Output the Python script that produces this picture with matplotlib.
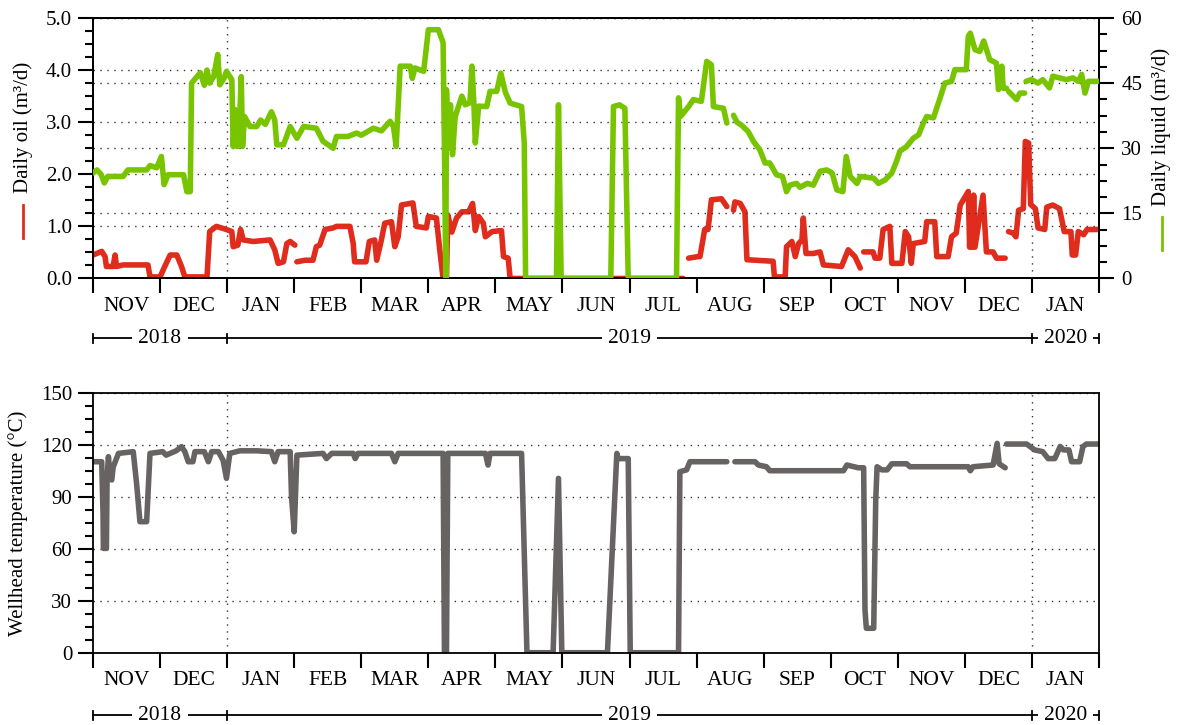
import numpy as np
import matplotlib
matplotlib.use("Agg")
import matplotlib.pyplot as plt
from matplotlib.lines import Line2D
from matplotlib.ticker import MultipleLocator, FixedLocator

plt.rcParams['font.family'] = ['Liberation Serif', 'DejaVu Serif']
plt.rcParams['font.size'] = 15

nan = np.nan

# x axis in months since 1 Nov 2018 (each month drawn with equal width)
months = ['NOV', 'DEC', 'JAN', 'FEB', 'MAR', 'APR', 'MAY', 'JUN',
          'JUL', 'AUG', 'SEP', 'OCT', 'NOV', 'DEC', 'JAN']
years = ['2018', '2019', '2020']
year_pos = [1, 8, 14.5]
year_marks = [0, 2, 14, 15]

# daily liquid (m3/d)
liq_x = [0.00, 0.06, 0.12, 0.17, 0.22, 0.45, 0.52, 0.80, 0.85, 0.95, 1.02, 1.06, 1.12, 1.35,
         1.40, 1.45, 1.47, 1.60, 1.66, 1.70, 1.74, 1.80, 1.86, 1.89, 1.95, 1.99, 2.07, 2.09,
         2.12, 2.15, 2.19, 2.21, 2.23, 2.26, 2.34, 2.44, 2.50, 2.57, 2.66, 2.71, 2.74, 2.84,
         2.94, 3.04, 3.14, 3.33, 3.43, 3.58, 3.63, 3.80, 3.93, 4.00, 4.18, 4.30, 4.43, 4.48,
         4.52, 4.58, 4.73, 4.76, 4.80, 4.93, 5.00, 5.15, 5.22, 5.24, 5.26, 5.27, 5.30, 5.33,
         5.36, 5.40, 5.50, 5.55, 5.62, 5.65, 5.68, 5.70, 5.75, 5.87, 5.92, 6.02, 6.08, 6.15,
         6.22, 6.39, 6.43, 6.45, 6.91, 6.94, 6.98, 7.72, 7.76, 7.85, 7.93, 7.98, 8.70, 8.73,
         8.76, 8.88, 8.95, 9.07, 9.15, 9.22, 9.25, 9.40, 9.45, 9.50, 9.55, 9.60, 9.67, 9.77,
         9.85, 9.94, 10.02, 10.09, 10.19, 10.28, 10.34, 10.39, 10.49, 10.54, 10.65, 10.74,
         10.84, 10.94, 11.02, 11.09, 11.18, 11.23, 11.29, 11.39, 11.44, 11.64, 11.71, 11.81,
         11.91, 11.98, 12.03, 12.13, 12.23, 12.31, 12.38, 12.43, 12.53, 12.63, 12.70, 12.80,
         12.85, 13.02, 13.05, 13.08, 13.15, 13.22, 13.28, 13.37, 13.47, 13.50, 13.55, 13.57,
         13.62, 13.63, 13.65, 13.77, 13.82, 13.89, 13.90, 13.91, 13.99, 14.09, 14.16, 14.26,
         14.31, 14.41, 14.51, 14.61, 14.69, 14.74, 14.79, 14.84, 15.00]
liq_y = [24.3, 25.0, 24.0, 22.0, 23.5, 23.5, 25.0, 25.0, 26.0, 25.5, 28.1, 21.6, 23.9, 23.9,
         20.0, 20.0, 45.0, 47.4, 44.5, 48.0, 45.0, 46.5, 51.6, 44.6, 46.0, 47.7, 45.8, 30.4,
         38.9, 30.4, 38.0, 46.5, 30.4, 37.3, 35.0, 35.0, 36.5, 35.5, 38.4, 36.5, 30.8, 30.8,
         35.0, 32.3, 35.0, 34.6, 31.6, 30.0, 32.7, 32.7, 33.5, 33.0, 34.6, 34.0, 36.2, 35.0,
         30.4, 48.9, 48.9, 46.1, 48.5, 47.7, 57.3, 57.3, 54.3, 30.0, 0.0, 43.5, 30.0, 40.0,
         28.5, 37.3, 42.0, 40.0, 40.5, 48.9, 40.0, 31.2, 39.7, 39.6, 43.1, 43.1, 47.3, 42.8,
         40.4, 39.6, 31.2, 0.0, 0.0, 40.0, 0.0, 0.0, 39.6, 40.0, 39.2, 0.0, 0.0, 41.6,
         37.3, 39.6, 41.2, 40.8, 50.0, 49.2, 39.6, 39.2, 35.8, nan, 37.6, 36.0, 35.3, 33.8,
         31.5, 29.7, 26.6, 26.6, 23.9, 23.5, 20.0, 21.5, 21.9, 21.0, 21.9, 21.5,
         24.7, 25.0, 24.3, 20.4, 20.0, 28.1, 23.5, 21.9, 23.5, 23.1, 21.9, 22.7,
         24.3, 27.0, 29.3, 30.4, 32.3, 33.1, 35.8, 37.3, 37.0, 41.6, 45.0, 45.4,
         48.1, 48.1, 55.8, 56.5, 52.7, 52.3, 54.7, 50.4, 49.6, 43.5, 48.9, 43.8,
         43.8, nan, 43.1, 41.2, 42.7, 42.7, nan, 45.4, 45.8, 45.0, 45.8, 43.9,
         46.6, 46.2, 45.8, 46.2, 45.4, 47.0, 42.7, 45.4, 45.4]

# daily oil (m3/d)
oil_x = [0.00, 0.13, 0.18, 0.20, 0.30, 0.33, 0.35, 0.45, 0.82, 0.85, 1.00, 1.07, 1.15, 1.25,
         1.32, 1.37, 1.70, 1.74, 1.84, 1.99, 2.07, 2.09, 2.16, 2.20, 2.24, 2.39, 2.64, 2.71,
         2.76, 2.84, 2.89, 2.94, 3.01, 3.02, 3.04, 3.16, 3.28, 3.33, 3.38, 3.46, 3.58, 3.63,
         3.83, 3.88, 3.90, 4.07, 4.12, 4.20, 4.23, 4.30, 4.35, 4.45, 4.50, 4.55, 4.60, 4.77,
         4.82, 4.97, 5.00, 5.12, 5.17, 5.22, 5.27, 5.29, 5.35, 5.42, 5.50, 5.60, 5.66, 5.70,
         5.75, 5.82, 5.85, 5.95, 6.09, 6.12, 6.19, 6.22, 8.80, 8.84, 8.88, 9.02, 9.05, 9.12,
         9.17, 9.22, 9.37, 9.45, 9.50, 9.55, 9.57, 9.65, 9.72, 9.75, 10.14, 10.16, 10.32,
         10.34, 10.42, 10.47, 10.52, 10.57, 10.59, 10.63, 10.74, 10.84, 10.89, 11.16, 11.26,
         11.36, 11.44, 11.46, 11.49, 11.63, 11.66, 11.73, 11.78, 11.88, 11.91, 12.06, 12.11,
         12.16, 12.20, 12.23, 12.40, 12.43, 12.55, 12.58, 12.75, 12.80, 12.87, 12.93, 13.05,
         13.07, 13.09, 13.11, 13.13, 13.15, 13.27, 13.32, 13.42, 13.47, 13.60, 13.62, 13.65,
         13.72, 13.76, 13.80, 13.87, 13.90, 13.95, 13.98, 14.05, 14.09, 14.19, 14.22, 14.31,
         14.41, 14.48, 14.58, 14.60, 14.65, 14.69, 14.77, 14.82, 15.00]
oil_y = [0.45, 0.52, 0.42, 0.23, 0.23, 0.45, 0.23, 0.26, 0.26, 0.03, 0.03, 0.23, 0.45, 0.45,
         0.23, 0.03, 0.03, 0.90, 1.00, 0.94, 0.90, 0.61, 0.64, 0.94, 0.74, 0.71, 0.74, 0.55,
         0.29, 0.32, 0.67, 0.71, 0.64, nan, 0.32, 0.35, 0.35, 0.61, 0.64, 0.94, 0.97, 1.00,
         1.00, 0.67, 0.32, 0.32, 0.71, 0.74, 0.35, 0.74, 1.06, 1.09, 0.61, 0.80, 1.41, 1.45,
         1.00, 0.97, 1.19, 1.16, 0.55, 0.00, 0.00, 1.22, 0.89, 1.16, 1.28, 1.28, 1.44, 0.92,
         1.19, 1.06, 0.80, 0.90, 0.92, 0.42, 0.39, 0.00, 0.00, nan, 0.39, 0.42, 0.42, 0.94,
         0.94, 1.51, 1.53, 1.38, nan, 1.31, 1.47, 1.44, 1.28, 0.36, 0.33, 0.03, 0.03,
         0.61, 0.71, 0.42, 0.67, 0.74, 1.16, 0.48, 0.48, 0.51, 0.26, 0.23, 0.55,
         0.42, 0.20, nan, 0.51, 0.51, 0.39, 0.39, 0.94, 1.00, 0.29, 0.29, 0.90,
         0.80, 0.29, 0.67, 0.71, 1.09, 1.09, 0.42, 0.42, 0.80, 0.87, 1.41, 1.67,
         0.60, 1.50, 0.60, 1.60, 0.60, 1.60, 0.51, 0.51, 0.39, 0.39, nan, 0.90,
         0.87, 0.80, 1.31, 1.34, 2.63, 2.60, 1.42, 1.34, 0.97, 0.94, 1.37, 1.41,
         1.34, 0.90, 0.90, 0.45, 0.45, 0.90, 0.84, 0.94, 0.94]

# wellhead temperature (degC)
temp_x = [0.00, 0.13, 0.15, 0.155, 0.20, 0.21, 0.23, 0.26, 0.28, 0.30, 0.38, 0.60, 0.65, 0.70,
          0.80, 0.85, 1.04, 1.09, 1.24, 1.32, 1.37, 1.42, 1.49, 1.52, 1.66, 1.72, 1.77, 1.87,
          1.94, 1.99, 2.04, 2.19, 2.44, 2.66, 2.71, 2.76, 2.94, 2.96, 3.00, 3.04, 3.43, 3.48,
          3.56, 3.88, 3.91, 3.95, 4.45, 4.50, 4.55, 5.22, 5.24, 5.27, 5.29, 5.85, 5.89, 5.92,
          6.39, 6.47, 6.86, 6.94, 6.99, 7.67, 7.81, 7.83, 7.98, 8.01, 8.73, 8.75, 8.85, 8.90,
          9.45, 9.50, 9.57, 9.87, 9.92, 10.04, 10.09, 11.19, 11.24, 11.41, 11.49, 11.51, 11.53,
          11.64, 11.67, 11.69, 11.76, 11.84, 11.91, 12.13, 12.18, 13.05, 13.08, 13.12, 13.42,
          13.48, 13.51, 13.60, 13.61, 13.62, 13.92, 14.04, 14.16, 14.24, 14.34, 14.42, 14.47,
          14.55, 14.59, 14.71, 14.76, 14.81, 15.00]
temp_y = [110.2, 110.2, 80.0, 60.2, 60.2, 100.0, 113.1, 100.0, 99.7, 107.0, 115.0, 116.0, 97.7, 75.6,
          75.6, 115.0, 116.0, 114.0, 116.5, 118.9, 116.0, 110.2, 110.2, 116.0, 116.0, 110.2, 116.0, 116.0,
          111.0, 100.6, 115.0, 116.5, 116.5, 116.0, 110.2, 116.0, 116.0, 90.0, 69.8, 114.0, 115.0, 112.0,
          115.0, 115.0, 112.0, 115.0, 115.0, 110.2, 115.0, 115.0, 0.0, 0.0, 115.0, 115.0, 108.3, 115.0,
          115.0, 0.0, 0.0, 100.6, 0.0, 0.0, 115.0, 112.0, 112.0, 0.0, 0.0, 104.4, 105.5, 110.2,
          110.2, nan, 110.2, 110.2, 108.3, 107.3, 105.0, 105.0, 108.3, 106.7, 106.7, 24.6, 14.1,
          14.1, 88.0, 107.3, 105.5, 105.5, 109.0, 109.0, 107.3, 107.3, 105.0, 107.3, 108.3,
          120.8, 109.0, 106.7, nan, 120.4, 120.4, 117.0, 116.0, 112.0, 112.0, 119.0, 117.0,
          117.0, 110.2, 110.2, 119.0, 120.4, 120.4]

GREEN = '#78c400'
RED = '#df2c1c'
GREY = '#676363'
dots = (0, (1, 4))

fig = plt.figure(figsize=(11.77, 7.25), dpi=100)
ax1 = fig.add_axes([0.079, 0.6159, 0.8548, 0.3593])
ax2 = ax1.twinx()
ax3 = fig.add_axes([0.079, 0.0997, 0.8548, 0.3586])


def style_x(ax, year_y):
    ax.set_xlim(0, 15)
    ax.xaxis.set_major_locator(FixedLocator(range(16)))
    ax.xaxis.set_minor_locator(FixedLocator(np.arange(len(months)) + 0.5))
    ax.set_xticklabels([], minor=False)
    ax.set_xticklabels(months, minor=True)
    ax.tick_params(axis='x', which='major', direction='out', length=11, width=1.5)
    ax.tick_params(axis='x', which='minor', length=0, pad=13, labelsize=15.5)
    for v in [2, 14]:
        ax.axvline(v, color='#333333', lw=1, ls=dots, zorder=0)
    tr = ax.get_xaxis_transform()
    ax.plot([0, 15], [year_y, year_y], color='black', lw=1.3, transform=tr, clip_on=False, zorder=1)
    for v in year_marks:
        ax.plot([v, v], [year_y - 0.017, year_y + 0.017], color='black', lw=1.3,
                transform=tr, clip_on=False, zorder=1)
    for lab, pos in zip(years, year_pos):
        ax.text(pos, year_y, lab, transform=tr, ha='center', va='center', fontsize=15.5, zorder=3,
                bbox=dict(facecolor='white', edgecolor='none', pad=4.5))


# top panel: oil (left) and liquid (right)
ax1.plot(oil_x, oil_y, color=RED, lw=4, solid_capstyle='round', zorder=2)
ax1.set_ylim(0, 5)
ax1.yaxis.set_major_locator(MultipleLocator(1))
ax1.yaxis.set_minor_locator(MultipleLocator(0.25))
ax1.set_yticklabels(['%.1f' % v for v in ax1.get_yticks()])
ax1.tick_params(axis='y', which='major', direction='out', length=11, width=1.5, labelsize=15, pad=4)
ax1.tick_params(axis='y', which='minor', direction='out', length=6, width=1.5)
ax1.grid(axis='y', which='major', color='#333333', lw=1, ls=dots)
style_x(ax1, -0.229)

ax2.plot(liq_x, liq_y, color=GREEN, lw=4, solid_capstyle='round', zorder=3)
ax2.set_ylim(0, 60)
ax2.yaxis.set_major_locator(MultipleLocator(15))
ax2.yaxis.set_minor_locator(MultipleLocator(3.75))
ax2.tick_params(axis='y', which='major', direction='out', length=11, width=1.5, labelsize=15, pad=5)
ax2.tick_params(axis='y', which='minor', direction='out', length=6, width=1.5)
ax2.grid(axis='y', which='major', color='#333333', lw=1, ls=dots)
ax2.set_xlim(0, 15)

for ax in (ax1, ax2, ax3):
    for s in ax.spines.values():
        s.set_linewidth(1.3)

# axis titles with small colour keys
fig.text(23 / 1177, 1 - 127 / 725, 'Daily oil (m³/d)', rotation=90, ha='center', va='center', fontsize=15)
fig.add_artist(Line2D([23 / 1177, 23 / 1177], [1 - 205 / 725, 1 - 238 / 725], color=RED, lw=2))
fig.text(1161 / 1177, 1 - 127 / 725, 'Daily liquid (m³/d)', rotation=90, ha='center', va='center', fontsize=15)
fig.add_artist(Line2D([1162 / 1177, 1162 / 1177], [1 - 217 / 725, 1 - 250 / 725], color=GREEN, lw=2))

# bottom panel: wellhead temperature
ax3.plot(temp_x, temp_y, color=GREY, lw=4, solid_capstyle='round', zorder=2)
ax3.set_ylim(0, 150)
ax3.yaxis.set_major_locator(MultipleLocator(30))
ax3.yaxis.set_minor_locator(MultipleLocator(7.5))
ax3.tick_params(axis='y', which='major', direction='out', length=11, width=1.5, labelsize=15, pad=4)
ax3.tick_params(axis='y', which='minor', direction='out', length=6, width=1.5)
ax3.grid(axis='y', which='major', color='#333333', lw=1, ls=dots)
style_x(ax3, -0.24)
fig.text(18 / 1177, 1 - 523 / 725, 'Wellhead temperature (°C)', rotation=90, ha='center', va='center',
         fontsize=15)

fig.savefig('out.png', dpi=100)
